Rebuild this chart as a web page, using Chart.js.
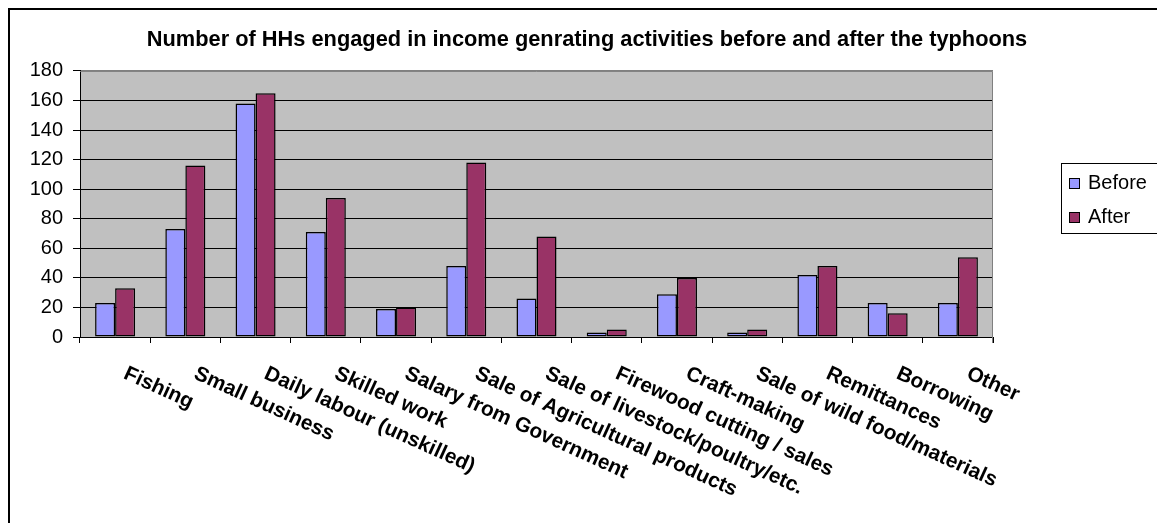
<!DOCTYPE html>
<html>
<head>
<meta charset="utf-8">
<script src="https://cdn.jsdelivr.net/npm/chart.js@4"></script>
<style>
    body { margin: 0; background: #fff; }
</style>
</head>
<body>
<canvas id="graficoActividades" width="1157" height="523"></canvas>
<script>
// Categorías del eje X
const categorias = [
    "Fishing", "Small business", "Daily labour (unskilled)", "Skilled work",
    "Salary from Government", "Sale of Agricultural products",
    "Sale of livestock/poultry/etc.", "Firewood cutting / sales", "Craft-making",
    "Sale of wild food/materials", "Remittances", "Borrowing", "Other"
];

// Número de hogares antes y después de los tifones
const antes = [23, 73, 158, 71, 19, 48, 26, 3, 29, 3, 42, 23, 23];
const despues = [33, 116, 165, 94, 20, 118, 68, 5, 40, 5, 48, 16, 54];

// Marcas del eje Y
const marcasY = [0, 20, 40, 60, 80, 100, 120, 140, 160, 180];

const fuente = "Arial, 'Liberation Sans', sans-serif";

// Fondo gris del área de trazado y marco exterior
const fondoPlugin = {
    id: "fondo",
    beforeDraw(chart) {
        const { ctx, chartArea: a } = chart;
        ctx.save();
        ctx.fillStyle = "#fff";
        ctx.fillRect(0, 0, chart.width, chart.height);
        ctx.strokeStyle = "#000";
        ctx.lineWidth = 2;
        ctx.strokeRect(9, 9, chart.width + 20, chart.height + 20); // marco (derecha y abajo quedan fuera)
        ctx.fillStyle = "#c0c0c0";
        ctx.fillRect(a.left, a.top, a.right - a.left, a.bottom - a.top);
        ctx.restore();
    },
    beforeDatasetsDraw(chart) {
        const { ctx, chartArea: a } = chart;
        ctx.save();
        ctx.strokeStyle = "#808080";
        ctx.lineWidth = 1;
        ctx.beginPath();
        ctx.moveTo(a.left, a.top + 0.5);
        ctx.lineTo(a.right - 0.5, a.top + 0.5);
        ctx.lineTo(a.right - 0.5, a.bottom + 6);
        ctx.stroke();
        ctx.restore();
    }
};

// Etiquetas del eje X inclinadas hacia abajo a la derecha
const etiquetasPlugin = {
    id: "etiquetasX",
    afterDraw(chart) {
        const { ctx } = chart;
        const escalaX = chart.scales.x;
        ctx.save();
        ctx.font = "bold 20.8px " + fuente;
        ctx.fillStyle = "#000";
        ctx.textAlign = "left";
        ctx.textBaseline = "alphabetic";
        chart.data.labels.forEach((texto, i) => {
            const x = escalaX.getPixelForTick(i) + 7.5;
            const y = chart.chartArea.bottom + 41;
            ctx.save();
            ctx.translate(x, y);
            ctx.rotate(24.5 * Math.PI / 180);
            ctx.fillText(texto, 0, 0);
            ctx.restore();
        });
        ctx.restore();
    }
};

// Leyenda con recuadro a la derecha
const leyendaPlugin = {
    id: "leyendaCaja",
    afterDraw(chart) {
        const { ctx } = chart;
        ctx.save();
        ctx.strokeStyle = "#000";
        ctx.lineWidth = 1;
        ctx.strokeRect(1061.5, 163.5, 130, 70);
        ctx.font = "20px " + fuente;
        ctx.textBaseline = "alphabetic";
        chart.data.datasets.forEach((ds, i) => {
            const y = 178 + i * 34;
            ctx.fillStyle = ds.backgroundColor;
            ctx.fillRect(1069, y, 11, 11);
            ctx.strokeRect(1069.5, y + 0.5, 10, 10);
            ctx.fillStyle = "#000";
            ctx.fillText(ds.label, 1088, y + 11);
        });
        ctx.restore();
    }
};

new Chart(document.getElementById("graficoActividades"), {
    type: "bar",
    data: {
        labels: categorias,
        datasets: [
            {
                label: "Before",
                data: antes,
                backgroundColor: "#9999ff",
                borderColor: "#000",
                borderWidth: 1.5,
                borderSkipped: false,
                categoryPercentage: 0.57,
                barPercentage: 1
            },
            {
                label: "After",
                data: despues,
                backgroundColor: "#993366",
                borderColor: "#000",
                borderWidth: 1.5,
                borderSkipped: false,
                categoryPercentage: 0.57,
                barPercentage: 1
            }
        ]
    },
    options: {
        responsive: false,
        animation: false,
        layout: { padding: { top: 10, left: 30, right: 13, bottom: 180 } },
        plugins: {
            legend: { display: false },
            tooltip: { enabled: false },
            title: {
                display: true,
                text: "Number of HHs engaged in income genrating activities before and after the typhoons",
                color: "#000",
                font: { family: fuente, size: 21.8, weight: "bold", lineHeight: 1.2 },
                padding: { top: 16.5, bottom: 18.3 }
            }
        },
        scales: {
            x: {
                grid: {
                    offset: true,
                    drawOnChartArea: false,
                    drawTicks: true,
                    tickLength: 6,
                    color: "#000"
                },
                border: { color: "#000", width: 1 },
                ticks: { display: false },
                afterFit(escala) { escala.height = 6; }
            },
            y: {
                min: 0,
                max: 180,
                afterBuildTicks(escala) {
                    escala.ticks = marcasY.map(v => ({ value: v }));
                },
                afterFit(escala) { escala.width = 50; },
                grid: {
                    color: c => (c.tick && c.tick.value === 180 ? "#808080" : "#000"),
                    tickColor: "#000",
                    tickLength: 7,
                    drawTicks: true
                },
                border: { color: "#000", width: 1 },
                ticks: {
                    color: "#000",
                    padding: 10,
                    font: { family: fuente, size: 20 }
                }
            },
            // Eje vacío a la derecha: reserva el hueco de la leyenda
            hueco: {
                type: "linear",
                position: "right",
                grid: { display: false },
                border: { display: false },
                ticks: { display: false },
                afterFit(escala) { escala.width = 151; }
            }
        }
    },
    plugins: [fondoPlugin, etiquetasPlugin, leyendaPlugin]
});
</script>
</body>
</html>
